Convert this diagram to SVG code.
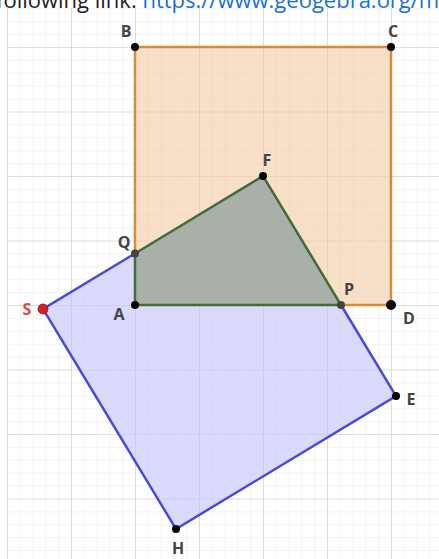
<svg xmlns="http://www.w3.org/2000/svg" width="439" height="559" viewBox="0 0 439 559">
<defs>
<pattern id="minor" patternUnits="userSpaceOnUse" x="7" y="47" width="12.8" height="12.9">
<path d="M0 0V12.9M0 0H12.8" fill="none" stroke="#e8e8e8" stroke-width="1"/>
</pattern>
<pattern id="major" patternUnits="userSpaceOnUse" x="7" y="47" width="64" height="64.5">
<path d="M0 0V64.5M0 0H64" fill="none" stroke="#cbcbcb" stroke-width="1.2"/>
</pattern>
<style>
.lbl{font-family:"Open Sans","Liberation Sans",sans-serif;font-size:16px;font-weight:700;fill:#444;text-anchor:middle}
.pt{fill:#000}
.orange{stroke:#d98a35;stroke-width:2.5;fill:none}
.blue{stroke:#4a4ad8;stroke-width:2.5;fill:none}
.green{stroke:#3f6e3c;stroke-width:2.5;fill:none}
</style>
</defs>
<rect width="439" height="559" fill="#fff"/>
<g id="grid">
<rect x="7" y="8" width="432" height="551" fill="url(#minor)"/>
<rect x="7" y="8" width="432" height="551" fill="url(#major)"/>
</g>
<text x="-4" y="8" font-family="'Open Sans','Liberation Sans',sans-serif" font-size="22" fill="#222">following link: <tspan fill="#1a6fd6">https://www.geogebra.org/m</tspan></text>
<g id="fills">
<rect x="135" y="47" width="256" height="258" fill="#f3c9a2" fill-opacity="0.6"/>
<polygon points="43,309 263,176 396,396 176,529" fill="#c6c6fa" fill-opacity="0.65"/>
<polygon points="135,253.5 263,176 341,305 135,305" fill="#9aa696" fill-opacity="0.75"/>
</g>
<g id="connectors">
<path class="orange" d="M135 253.5V47H391V305H341"/>
<path class="blue" d="M135 253.5L43 309L176 529L396 396L341 305"/>
<path class="green" d="M135 253.5L263 176L341 305H135Z"/>
</g>
<g id="B"><circle class="pt" cx="135" cy="47" r="4"/><text class="lbl" x="126" y="37">B</text></g>
<g id="C"><circle class="pt" cx="391" cy="47" r="4"/><text class="lbl" x="393" y="37">C</text></g>
<g id="D"><circle class="pt" cx="391" cy="305" r="5"/><text class="lbl" x="409" y="324">D</text></g>
<g id="A"><circle class="pt" cx="135" cy="305" r="4"/><text class="lbl" x="119" y="320">A</text></g>
<g id="F"><circle class="pt" cx="263" cy="176" r="4"/><text class="lbl" x="267" y="166">F</text></g>
<g id="Q"><circle cx="135" cy="253.5" r="4" fill="#444"/><text class="lbl" x="124" y="248">Q</text></g>
<g id="P"><circle cx="341" cy="305" r="4" fill="#444"/><text class="lbl" x="349" y="295">P</text></g>
<g id="S"><circle cx="43" cy="309" r="5" fill="#d42020" stroke="#7a1010" stroke-width="0.8"/><text class="lbl" x="27" y="315" style="fill:#e04848">S</text></g>
<g id="E"><circle class="pt" cx="396" cy="396" r="4"/><text class="lbl" x="411" y="405">E</text></g>
<g id="H"><circle class="pt" cx="176" cy="529" r="4"/><text class="lbl" x="178" y="554">H</text></g>
</svg>
